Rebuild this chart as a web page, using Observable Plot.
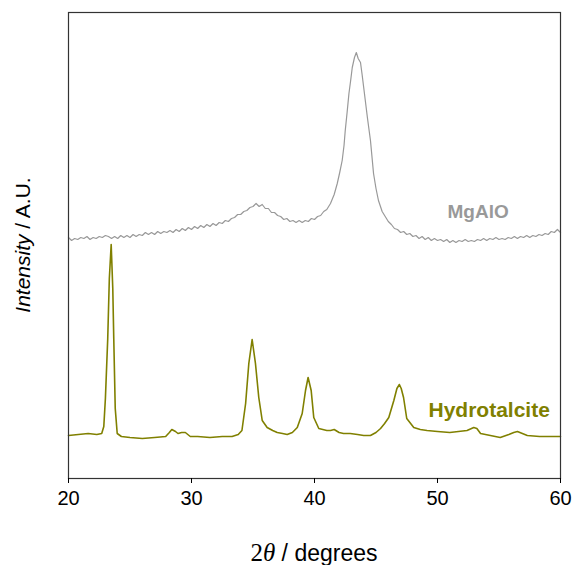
<!DOCTYPE html>
<html>
<head>
<meta charset="utf-8">
<script src="https://cdn.jsdelivr.net/npm/d3@7"></script>
<script src="https://cdn.jsdelivr.net/npm/@observablehq/plot@0.6"></script>
<style>
  html, body { margin: 0; padding: 0; background: #fff; }
  #chart svg { display: block; }
</style>
</head>
<body>
<div id="chart"></div>
<script>
// X tick labels (2θ, degrees)
const xTicks = [20, 30, 40, 50, 60];

// Hydrotalcite pattern: 2θ and intensity (a.u.)
const htTheta = [20.0,20.8,21.6,22.3,22.7,22.87,23.0,23.19,23.32,23.47,23.6,23.68,23.8,23.96,24.3,25,26,27,27.9,28.2,28.4,28.7,28.9,29.2,29.5,29.9,30.5,31.5,32.5,33.3,33.8,34.1,34.4,34.66,34.93,35.2,35.47,35.75,36.15,36.6,36.97,37.4,37.78,38.2,38.6,39.0,39.27,39.48,39.73,39.94,40.35,41.0,41.3,41.6,42.0,42.36,42.9,43.5,44.0,44.55,45.0,45.37,45.7,46.04,46.45,46.7,46.9,47.05,47.24,47.5,48.07,48.6,49.15,50,51,51.7,52.4,52.95,53.2,53.5,54.3,55.1,55.8,56.2,56.5,56.9,57.3,58.3,59.4,60];
const htIntensity = [43,44,45,44,45,52,80,140,200,234,190,140,70,45,42,41,40,41,42,46,49,47,45,46,46,42,42,41,42,42,44,48,75,115,139,115,81,58,51,48,46,45,44,46,51,65,88,101,88,61,50,48,48,49,46,45,45,44,43,43,46,50,55,61,78,90,94,90,81,60,51,49,48,47,46,47,48,51,50,45,43,41,44,46,47,45,43,42,42,42];

// MgAlO pattern: 2θ and intensity (a.u.)
const mgTheta = [20.0,20.25,20.5,20.75,21.0,21.25,21.5,21.75,22.0,22.25,22.5,22.75,23.0,23.25,23.5,23.75,24.0,24.25,24.5,24.75,25.0,25.25,25.5,25.75,26.0,26.25,26.5,26.75,27.0,27.25,27.5,27.75,28.0,28.25,28.5,28.75,29.0,29.25,29.5,29.75,30.0,30.25,30.5,30.75,31.0,31.25,31.5,31.75,32.0,32.25,32.5,32.75,33.0,33.25,33.5,33.75,34.0,34.25,34.5,34.75,35.0,35.25,35.5,35.75,36.0,36.25,36.5,36.75,37.0,37.25,37.5,37.75,38.0,38.25,38.5,38.75,39.0,39.25,39.5,39.75,40.0,40.25,40.5,40.75,41.0,41.3,41.6,41.85,42.05,42.25,42.4,42.5,42.65,42.8,42.95,43.07,43.25,43.4,43.55,43.74,43.87,44.0,44.15,44.3,44.55,44.8,45.0,45.2,45.5,45.75,46.0,46.25,46.5,46.75,47.0,47.25,47.5,47.75,48.0,48.25,48.5,48.75,49.0,49.25,49.5,49.75,50.0,50.25,50.5,50.75,51.0,51.25,51.5,51.75,52.0,52.25,52.5,52.75,53.0,53.25,53.5,53.75,54.0,54.25,54.5,54.75,55.0,55.25,55.5,55.75,56.0,56.25,56.5,56.75,57.0,57.25,57.5,57.75,58.0,58.25,58.5,58.75,59.0,59.25,59.5,59.75,60.0];
const mgIntensity = [241,238,240,239,241,240,242,239,241,240,242,241,243,242,240,242,240,243,241,243,241,244,242,244,243,246,244,246,244,247,245,247,246,248,246,249,247,250,248,251,249,252,250,253,251,254,252,255,253,256,255,258,257,260,261,264,264,267,268,271,272,275,272,274,270,270,266,266,263,262,259,260,257,258,256,258,256,258,257,260,259,262,263,267,269,275,284,295,306,318,333,348,366,385,399,411,421,426,420,416,404,391,376,361,338,305,290,278,267,262,257,254,250,249,246,247,244,245,242,243,240,242,239,241,238,240,238,239,237,239,236,238,236,238,237,239,237,238,237,239,238,240,238,240,239,241,239,240,239,241,240,242,240,242,241,243,241,243,242,244,243,245,244,247,246,249,246];

// Series labels
const seriesNames = ["MgAlO", "Hydrotalcite"];
const labelTheta = [53.3, 54.2];
const labelIntensity = [267, 68];
const seriesColors = ["#999999", "#808000"];
const labelSizes = [19, 20];

const ht = htTheta.map((t, i) => ({theta: t, value: htIntensity[i]}));
const mg = mgTheta.map((t, i) => ({theta: t, value: mgIntensity[i]}));
const labels = seriesNames.map((n, i) => ({name: n, theta: labelTheta[i], value: labelIntensity[i], color: seriesColors[i], size: labelSizes[i]}));

const W = 576, H = 565, mL = 68, mR = 16, mT = 12, mB = 87;

const chart = Plot.plot({
  width: W,
  height: H,
  marginLeft: mL,
  marginRight: mR,
  marginTop: mT,
  marginBottom: mB,
  style: {fontFamily: "'Liberation Sans', Arial, sans-serif", fontSize: "20px", background: "#fff", color: "#000"},
  x: {domain: [20, 60]},
  y: {domain: [0, 466], axis: null},
  marks: [
    Plot.line(mg, {x: "theta", y: "value", stroke: seriesColors[0], strokeWidth: 1.2}),
    Plot.line(ht, {x: "theta", y: "value", stroke: seriesColors[1], strokeWidth: 1.6}),
    Plot.text(labels.slice(0, 1), {x: "theta", y: "value", text: "name", fill: "color", fontWeight: "bold", fontSize: 19}),
    Plot.text(labels.slice(1), {x: "theta", y: "value", text: "name", fill: "color", fontWeight: "bold", fontSize: 21}),
    Plot.frame({stroke: "#333", strokeWidth: 1.2}),
    Plot.axisX({ticks: xTicks, tickSize: 5, tickPadding: 7, label: null, fontSize: 20, tickFormat: d => String(d)})
  ]
});

document.getElementById("chart").appendChild(chart);

// Axis titles with mixed styling
const svg = d3.select(chart);
const cx = mL + (W - mL - mR) / 2;
const xl = svg.append("text")
  .attr("x", cx).attr("y", 561)
  .attr("text-anchor", "middle")
  .attr("font-size", 23)
  .attr("fill", "#000");
xl.append("tspan").attr("font-family", "'Liberation Serif', serif").attr("font-size", 25).text("2");
xl.append("tspan").attr("font-family", "'Liberation Serif', serif").attr("font-size", 25).attr("font-style", "italic").text("θ");
xl.append("tspan").attr("font-family", "'Liberation Sans', Arial, sans-serif").text(" / degrees");

const cy = mT + (H - mT - mB) / 2;
const yl = svg.append("text")
  .attr("transform", `translate(30,${cy}) rotate(-90)`)
  .attr("text-anchor", "middle")
  .attr("font-size", 21)
  .attr("font-family", "'Liberation Sans', Arial, sans-serif")
  .attr("fill", "#000");
yl.append("tspan").attr("font-style", "italic").text("Intensity");
yl.append("tspan").text(" / A.U.");
</script>
</body>
</html>
